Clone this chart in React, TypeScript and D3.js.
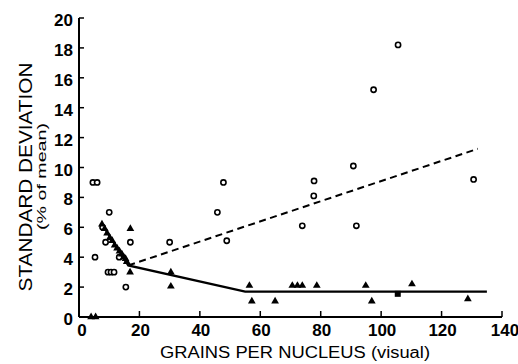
import React from "react";
import * as d3 from "d3";

const xTicks = [0, 20, 40, 60, 80, 100, 120, 140];
const yTicks = [0, 2, 4, 6, 8, 10, 12, 14, 16, 18, 20];

// open circles
const circleX = [4.6, 6, 5.3, 10, 7.8, 8.8, 13.3, 9.6, 10.6, 11.6, 15.5, 17, 30, 45.8, 47.8, 48.9, 73.9, 77.8, 77.7, 90.8, 91.8, 97.5, 105.6, 130.6];
const circleY = [9, 9, 4, 7, 6, 5, 4, 3, 3, 3, 2, 5, 5, 7, 9, 5.1, 6.1, 9.1, 8.1, 10.1, 6.1, 15.2, 18.2, 9.2];

// filled triangles
const triX = [4, 5.5, 7.6, 8.5, 9.3, 10.2, 11, 11.8, 12.6, 13.4, 14.2, 14.8, 15.4, 15.8, 17, 16.9, 30.4, 30.4, 56.4, 57.2, 64.9, 70.6, 72.3, 73.9, 78.7, 94.9, 96.9, 110.2, 128.7];
const triY = [0, 0, 6.2, 5.9, 5.6, 5.3, 5.1, 4.8, 4.6, 4.4, 4.2, 4.0, 3.9, 3.7, 5.9, 3.0, 3.0, 2.05, 2.1, 1.05, 1.05, 2.1, 2.1, 2.1, 2.1, 2.1, 1.05, 2.2, 1.2];

// filled square marker
const sqX = [105.5];
const sqY = [1.55];

// fitted lines
const solidX = [7.5, 16.3, 55, 135];
const solidY = [6.25, 3.45, 1.7, 1.7];
const dashX = [16.3, 132];
const dashY = [3.45, 11.25];

export default function App() {
  const x = d3.scaleLinear().domain([0, 140]).range([79, 502]);
  const y = d3.scaleLinear().domain([0, 20]).range([317, 18]);
  const line = d3
    .line<[number, number]>()
    .x((d) => x(d[0]))
    .y((d) => y(d[1]));
  const solid = line(solidX.map((v, i) => [v, solidY[i]]) as [number, number][]) || "";
  const dashed = line(dashX.map((v, i) => [v, dashY[i]]) as [number, number][]) || "";
  const tri = d3.symbol().type(d3.symbolTriangle).size(26)() || "";
  const font = "'Liberation Sans', Arial, Helvetica, sans-serif";

  return (
    <div style={{ position: "absolute", left: 0, top: 0 }}>
      <svg width={518} height={364} style={{ display: "block", background: "#fff" }} fontFamily={font}>
        <rect width={518} height={364} fill="#fff" />
        {/* axes */}
        <line x1={x(0)} x2={x(0)} y1={y(20)} y2={y(0)} stroke="#000" strokeWidth={2} />
        <line x1={x(0)} x2={x(140)} y1={y(0)} y2={y(0)} stroke="#000" strokeWidth={2} />
        {yTicks.map((t) => (
          <g key={"y" + t}>
            <line x1={x(0)} x2={x(0) + 5} y1={y(t)} y2={y(t)} stroke="#000" strokeWidth={1.5} />
            <text x={73} y={y(t) + 8} textAnchor="end" fontSize={17} fontWeight="bold" fill="#000">
              {t}
            </text>
          </g>
        ))}
        {xTicks.map((t) => (
          <g key={"x" + t}>
            <line x1={x(t)} x2={x(t)} y1={y(0)} y2={y(0) - 6} stroke="#000" strokeWidth={1.5} />
            <text x={x(t) + (t === 0 ? 3 : t === 140 ? 3 : 1)} y={336} textAnchor="middle" fontSize={17} fontWeight="bold" fill="#000">
              {t}
            </text>
          </g>
        ))}
        {/* axis titles */}
        <text x={295} y={358} textAnchor="middle" fontSize={16} fill="#000" textLength={270} lengthAdjust="spacingAndGlyphs">
          GRAINS PER NUCLEUS (visual)
        </text>
        <text transform="translate(32,177) rotate(-90)" textAnchor="middle" fontSize={18} fill="#000" textLength={229} lengthAdjust="spacingAndGlyphs">
          STANDARD DEVIATION
        </text>
        <text transform="translate(45.5,176.5) rotate(-90)" textAnchor="middle" fontSize={13} fill="#000" textLength={107} lengthAdjust="spacingAndGlyphs">
          (% of mean)
        </text>
        {/* lines */}
        <path d={solid} fill="none" stroke="#000" strokeWidth={2.2} />
        <path d={dashed} fill="none" stroke="#000" strokeWidth={2} strokeDasharray="7,4.5" />
        {/* markers */}
        {circleX.map((v, i) => (
          <circle key={"c" + i} cx={x(v)} cy={y(circleY[i])} r={2.6} fill="#fff" stroke="#000" strokeWidth={1.6} />
        ))}
        {triX.map((v, i) => (
          <path key={"t" + i} d={tri} transform={`translate(${x(v)},${y(triY[i])})`} fill="#000" />
        ))}
        {sqX.map((v, i) => (
          <rect key={"s" + i} x={x(v) - 3} y={y(sqY[i]) - 3} width={6} height={6} fill="#000" />
        ))}
      </svg>
    </div>
  );
}
